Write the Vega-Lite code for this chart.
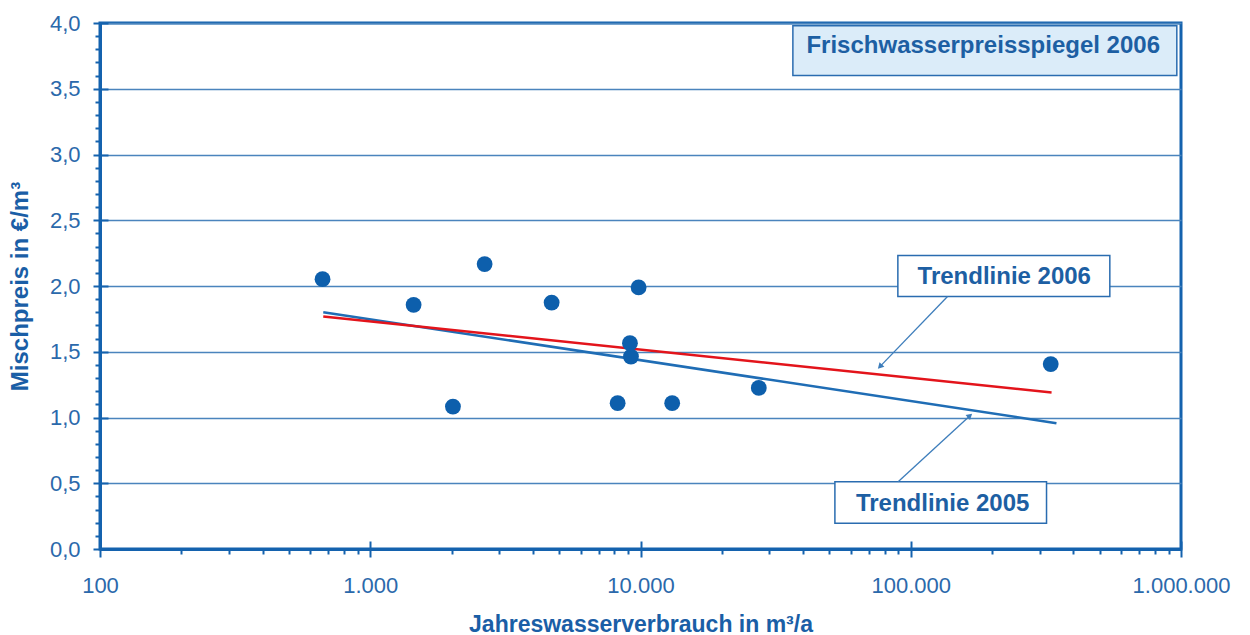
{
  "$schema": "https://vega.github.io/schema/vega-lite/v6.json",
  "width": 1081,
  "height": 526,
  "autosize": {"type": "none"},
  "padding": {"left": 100, "top": 23, "right": 69, "bottom": 86},
  "background": "white",
  "config": {
    "font": "Liberation Sans",
    "view": {"stroke": "#1462ae", "strokeWidth": 3}
  },
  "datasets": {
    "points": [
      {"x": 666, "y": 2.052}, {"x": 1447, "y": 1.857}, {"x": 2023, "y": 1.083},
      {"x": 2650, "y": 2.167}, {"x": 4690, "y": 1.874}, {"x": 8230, "y": 1.109},
      {"x": 9140, "y": 1.565}, {"x": 9220, "y": 1.463}, {"x": 9840, "y": 1.989},
      {"x": 13100, "y": 1.109}, {"x": 27400, "y": 1.225}, {"x": 329600, "y": 1.406}
    ],
    "trends": [
      {"series": "Trendlinie 2005", "x": 670, "y": 1.801},
      {"series": "Trendlinie 2005", "x": 346000, "y": 0.957},
      {"series": "Trendlinie 2006", "x": 670, "y": 1.768},
      {"series": "Trendlinie 2006", "x": 332000, "y": 1.19}
    ],
    "boxes": [
      {"name": "Frisch", "x": 36630, "x2": 965000, "y": 3.98, "y2": 3.6},
      {"name": "T2006", "x": 89600, "x2": 545300, "y": 2.232, "y2": 1.92},
      {"name": "T2005", "x": 52400, "x2": 318000, "y": 0.512, "y2": 0.196}
    ],
    "labels": [
      {"label": "Frischwasserpreisspiegel 2006", "x": 185400, "y": 3.775},
      {"label": "Trendlinie 2006", "x": 221800, "y": 2.017},
      {"label": "Trendlinie 2005", "x": 131200, "y": 0.291}
    ],
    "arrows": [
      {"name": "a2006", "x": 136800, "y": 1.92, "x2": 76900, "y2": 1.387},
      {"name": "a2005", "x": 89800, "y": 0.512, "x2": 165600, "y2": 1.014}
    ]
  },
  "resolve": {"axis": {"x": "independent", "y": "independent"}},
  "layer": [
    {
      "data": {"name": "boxes"},
      "mark": {"type": "rect", "stroke": "#2a6cb0", "strokeWidth": 1.5},
      "encoding": {
        "x": {"field": "x", "type": "quantitative",
          "scale": {"type": "log", "domain": [100, 1000000], "nice": false},
          "axis": {"orient": "bottom", "values": [100, 1000, 10000, 100000, 1000000],
            "tickSize": -8, "tickWidth": 2, "tickColor": "#1462ae", "labels": false,
            "domain": false, "grid": false, "title": null}},
        "x2": {"field": "x2"},
        "y": {"field": "y", "type": "quantitative",
          "scale": {"domain": [0, 4], "nice": false},
          "axis": {"orient": "left", "values": [0, 0.5, 1, 1.5, 2, 2.5, 3, 3.5, 4],
            "tickSize": -8, "tickWidth": 2, "tickColor": "#1462ae", "labels": false,
            "domain": false, "grid": false, "title": null}},
        "y2": {"field": "y2"},
        "fill": {"field": "name", "type": "nominal",
          "scale": {"domain": ["Frisch", "T2006", "T2005"], "range": ["#dbecf9", "#ffffff", "#ffffff"]},
          "legend": null}
      }
    },
    {
      "data": {"name": "labels"},
      "mark": {"type": "text", "font": "Liberation Sans", "fontWeight": "bold", "fontSize": 24,
        "color": "#1d5fa3", "align": "center", "baseline": "alphabetic"},
      "encoding": {
        "x": {"field": "x", "type": "quantitative", "axis": null},
        "y": {"field": "y", "type": "quantitative", "axis": null},
        "text": {"field": "label"}
      }
    },
    {
      "data": {"name": "arrows"},
      "mark": {"type": "rule", "color": "#3d7dbb", "strokeWidth": 1.3},
      "encoding": {
        "x": {"field": "x", "type": "quantitative", "axis": null},
        "y": {"field": "y", "type": "quantitative", "axis": null},
        "x2": {"field": "x2"},
        "y2": {"field": "y2"}
      }
    },
    {
      "data": {"name": "arrows"},
      "transform": [{"filter": "datum.name === 'a2006'"}],
      "mark": {"type": "point", "shape": "triangle-up", "filled": true, "size": 45, "angle": 224, "color": "#3d7dbb", "opacity": 1},
      "encoding": {
        "x": {"field": "x2", "type": "quantitative", "axis": null},
        "y": {"field": "y2", "type": "quantitative", "axis": null}
      }
    },
    {
      "data": {"name": "arrows"},
      "transform": [{"filter": "datum.name === 'a2005'"}],
      "mark": {"type": "point", "shape": "triangle-up", "filled": true, "size": 45, "angle": 48, "color": "#3d7dbb", "opacity": 1},
      "encoding": {
        "x": {"field": "x2", "type": "quantitative", "axis": null},
        "y": {"field": "y2", "type": "quantitative", "axis": null}
      }
    },
    {
      "data": {"name": "trends"},
      "mark": {"type": "line", "strokeWidth": 2.5},
      "encoding": {
        "x": {"field": "x", "type": "quantitative",
          "axis": {"orient": "bottom",
            "values": [200, 300, 400, 500, 600, 700, 800, 900, 2000, 3000, 4000, 5000, 6000, 7000, 8000, 9000, 20000, 30000, 40000, 50000, 60000, 70000, 80000, 90000, 200000, 300000, 400000, 500000, 600000, 700000, 800000, 900000],
            "tickSize": 5, "tickWidth": 2, "tickColor": "#1462ae", "labels": false,
            "domain": false, "grid": false, "title": null}},
        "y": {"field": "y", "type": "quantitative",
          "axis": {"orient": "left",
            "values": [0.1, 0.2, 0.3, 0.4, 0.6, 0.7, 0.8, 0.9, 1.1, 1.2, 1.3, 1.4, 1.6, 1.7, 1.8, 1.9, 2.1, 2.2, 2.3, 2.4, 2.6, 2.7, 2.8, 2.9, 3.1, 3.2, 3.3, 3.4, 3.6, 3.7, 3.8, 3.9],
            "tickSize": 5, "tickWidth": 2, "tickColor": "#1462ae", "labels": false,
            "domain": false, "grid": false, "title": null}},
        "color": {"field": "series", "type": "nominal",
          "scale": {"domain": ["Trendlinie 2005", "Trendlinie 2006"], "range": ["#1f6db5", "#e3141b"]},
          "legend": null}
      }
    },
    {
      "data": {"name": "points"},
      "mark": {"type": "point", "shape": "circle", "filled": true, "size": 250, "color": "#0d5fac", "opacity": 1},
      "encoding": {
        "x": {"field": "x", "type": "quantitative",
          "axis": {"orient": "bottom", "values": [100, 1000, 10000, 100000, 1000000],
            "labelExpr": "replace(replace(format(datum.value, ',.0f'), ',', '.'), ',', '.')",
            "tickSize": 8, "tickWidth": 2, "tickColor": "#1462ae",
            "domain": true, "domainWidth": 3, "domainColor": "#1462ae",
            "labelFont": "Liberation Sans", "labelFontSize": 22, "labelColor": "#2b69ab",
            "labelPadding": 18, "labelFlush": false, "labelOverlap": false,
            "grid": false,
            "title": "Jahreswasserverbrauch in m³/a",
            "titleFont": "Liberation Sans", "titleFontSize": 23, "titleFontWeight": "bold",
            "titleColor": "#1a5ea6", "titleBaseline": "alphabetic", "titleY": 82}},
        "y": {"field": "y", "type": "quantitative",
          "axis": {"orient": "left", "values": [0, 0.5, 1, 1.5, 2, 2.5, 3, 3.5, 4],
            "labelExpr": "replace(format(datum.value, '.1f'), '.', ',')",
            "tickSize": 7, "tickWidth": 2, "tickColor": "#1462ae",
            "domain": true, "domainWidth": 3, "domainColor": "#1462ae",
            "labelFont": "Liberation Sans", "labelFontSize": 22, "labelColor": "#2b69ab",
            "labelPadding": 13, "labelOverlap": false,
            "grid": true, "gridColor": "#4a84bd", "gridWidth": 1.3,
            "title": "Mischpreis in €/m³",
            "titleFont": "Liberation Sans", "titleFontSize": 24, "titleFontWeight": "bold",
            "titleColor": "#1a5ea6", "titleBaseline": "alphabetic", "titleX": -73}}
      }
    }
  ]
}
